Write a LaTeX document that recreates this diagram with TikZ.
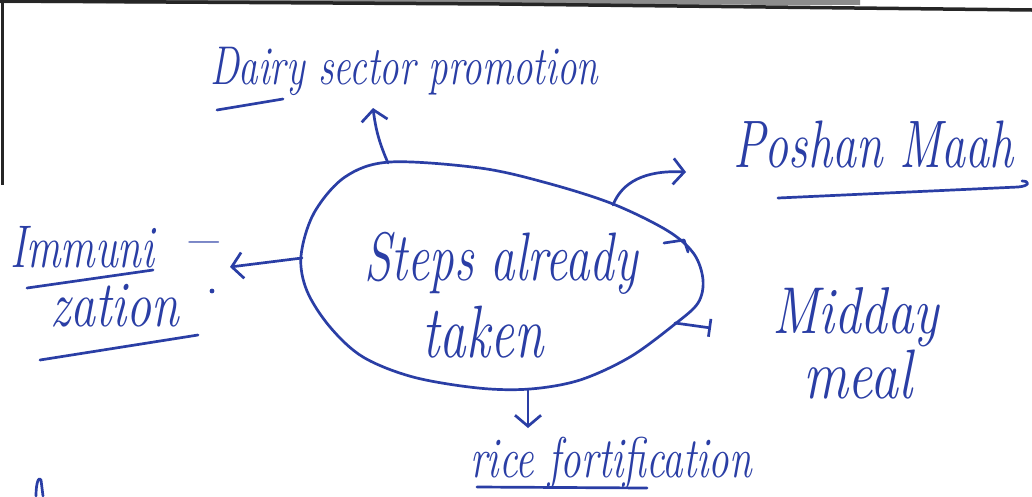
\documentclass[tikz,border=0pt]{standalone}
\usetikzlibrary{arrows.meta}
\usepackage{graphicx}
\definecolor{ink}{RGB}{42,62,165}
\newcommand{\hw}[1]{\fontsize{#1}{#1}\selectfont\itshape}
\newcommand{\tall}[2][1.4]{\scalebox{1}[#1]{#2}}
\begin{document}
\begin{tikzpicture}[x=1pt,y=-1pt,
  inkline/.style={draw=ink, line width=2.7pt, line cap=round, line join=round},
  conn/.style={inkline, -{Straight Barb[length=11pt,width=26pt]}},
  lbl/.style={text=ink, inner sep=0pt, outer sep=0pt}]
\useasboundingbox (0,0) rectangle (1032,496);
\fill[white] (0,0) rectangle (1032,496);
% page edges
\fill[black!45] (0,0) -- (860,0) -- (860,5) -- (0,3) -- cycle;
\draw[black!85, line width=3.5pt] (0,1) -- (500,4) -- (1032,10);
\draw[black!85, line width=3pt] (2,0) -- (2,185);
% central blob
\draw[inkline] plot[smooth cycle, tension=0.55] coordinates {
 (390,162) (480,168) (547,183) (613,204) (668,231) (694,254) (703,280)
 (698,303) (675,324) (630,357) (580,380) (530,389) (478,388) (413,377)
 (363,357) (330,327) (307,291) (301,256) (314,213) (345,177)};
\draw[inkline] (664,243) -- (684,240) -- (688,252);
% coordinates on blob and arrow ends
\coordinate (eTop) at (388,163);
\coordinate (upTip) at (373,108);
\coordinate (eLeft) at (302,258);
\coordinate (leftTip) at (230,267);
\coordinate (eBot) at (528,389);
\coordinate (downTip) at (528,428);
\coordinate (ePosh) at (613,205);
\coordinate (poshTip) at (686,172);
\coordinate (eMid) at (675,323);
\coordinate (midTip) at (711,328);
% labels
\node[lbl, anchor=base, font=\hw{49}] (steps) at (501,280) {\tall{Steps already}};
\node[lbl, anchor=base, font=\hw{53}] (taken) at (483,357) {\tall{taken}};
\node[lbl, anchor=base west, font=\hw{39}] (dairy) at (210,84) {\tall{Dairy sector promotion}};
\node[lbl, anchor=base west, font=\hw{48}] (poshan) at (733,167) {\tall{Poshan Maah}};
\node[lbl, anchor=base west, font=\hw{43}] (immuni) at (10,267) {\tall{Immuni\hspace{28pt}\raisebox{6pt}{\scalebox{1.6}[1]{–}}}};
\node[lbl, anchor=base west, font=\hw{50}] (zation) at (50,326) {\tall[1.3]{zation}};
\fill[ink] (212,291) circle (2.4pt);
\node[lbl, anchor=base west, font=\hw{53}] (midday) at (772,333) {\tall[1.25]{Midday}};
\node[lbl, anchor=base west, font=\hw{56}] (meal) at (803,398) {\tall[1.25]{meal}};
\node[lbl, anchor=base west, font=\hw{41}] (rice) at (470,477) {\tall{rice fortification}};
% underlines
\draw[inkline] (217,110) -- (283,99);
\draw[inkline] (27,288) -- (153,270);
\draw[inkline] (40,360) -- (198,335);
\draw[inkline] (778,198) -- (1018,187) .. controls (1030,186) and (1030,181) .. (1022,181);
\draw[inkline] (477,487) -- (647,488);
% fragment at lower left
\draw[inkline] (36,496) .. controls (36,482) and (39,476) .. (41,480) -- (43,496);
% connectors
\draw[conn] (eTop) to[bend left=8] (upTip);
\draw[conn] (eLeft) -- (leftTip);
\draw[conn] (eBot) -- (downTip);
\draw[conn] (ePosh) .. controls (622,182) and (645,170) .. (poshTip);
\draw[inkline, -{Bar[width=18pt]}] (eMid) -- (midTip);
\end{tikzpicture}
\end{document}
